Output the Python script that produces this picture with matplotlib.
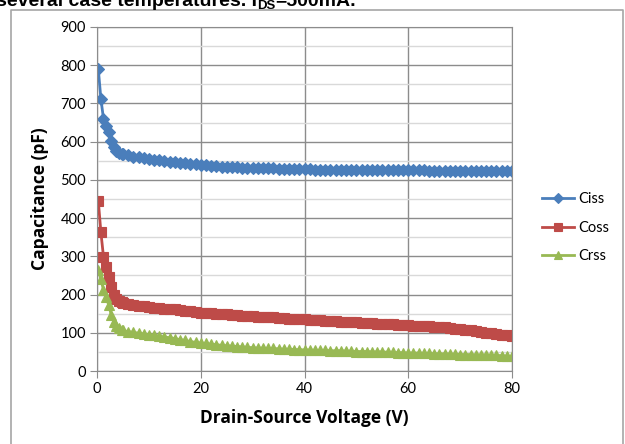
import matplotlib
matplotlib.use('Agg')
import matplotlib.pyplot as plt
from matplotlib.lines import Line2D
import numpy as np

# drain-source voltage (V): half-volt steps near 0, then 1 V steps
v_early = [0.25, 0.75, 1.25, 1.75, 2.25, 2.75, 3.25, 3.75, 4.25, 4.75]
v_tail = list(range(5, 81))
vds = v_early + v_tail

ciss = [790, 712, 660, 642, 625, 602, 587, 576, 571, 569,
        568, 564, 561, 559, 557, 555, 553, 551, 549, 548,
        546, 545, 544, 542, 541, 539, 538, 537, 536, 535,
        534, 533, 533, 532, 532, 531, 531, 530, 530, 530,
        529, 529, 529, 528, 528, 528, 528, 527, 527, 527,
        527, 527, 527, 526, 526, 526, 526, 526, 526, 526,
        525, 525, 525, 525, 525, 525, 525, 525, 525, 524,
        524, 524, 524, 524, 524, 524, 524, 524, 524, 524,
        523, 523, 523, 523, 523, 523]

coss = [445, 363, 299, 271, 247, 220, 198, 188, 183, 180,
        179, 176, 173, 171, 169, 167, 166, 164, 163, 162,
        161, 159, 158, 156, 155, 153, 152, 151, 150, 149,
        148, 147, 146, 145, 144, 143, 142, 141, 140, 140,
        139, 138, 137, 136, 136, 135, 134, 133, 133, 132,
        131, 130, 129, 129, 128, 127, 126, 126, 125, 124,
        124, 123, 122, 121, 121, 120, 119, 118, 118, 117,
        116, 115, 114, 112, 111, 109, 107, 106, 104, 102,
        100, 99, 97, 95, 94, 92]

crss = [264, 240, 212, 194, 173, 147, 127, 117, 112, 108,
        106, 103, 101, 99, 97, 95, 93, 91, 89, 87,
        85, 82, 80, 77, 75, 73, 72, 70, 69, 67,
        66, 65, 64, 63, 62, 61, 60, 60, 59, 59,
        58, 57, 57, 56, 56, 55, 55, 54, 54, 54,
        53, 53, 53, 52, 52, 51, 51, 51, 50, 50,
        50, 49, 49, 48, 48, 47, 47, 47, 46, 46,
        45, 45, 45, 44, 44, 43, 43, 43, 42, 42,
        42, 41, 41, 40, 39, 38]

W, H = 625, 444
fig = plt.figure(figsize=(W / 100, H / 100), dpi=100)
ax = fig.add_axes([97 / W, 1 - 371 / H, (512 - 97) / W, (371 - 27) / H])

ax.plot(vds, ciss, '-', color='#4A7EBB', marker='D', ms=6.5, mew=0.8, lw=2, label='Ciss')
ax.plot(vds, coss, '-', color='#BE4B48', marker='s', ms=6.5, mew=0.8, lw=2, label='Coss')
ax.plot(vds, crss, '-', color='#98B954', marker='^', ms=7.5, mew=0.8, lw=2, label='Crss')

ax.set_xlim(0, 80)
ax.set_ylim(0, 900)
ax.set_xticks(np.arange(0, 81, 20))
ax.set_yticks(np.arange(0, 901, 100))
ax.set_yticks(np.arange(50, 900, 100), minor=True)
ax.grid(True, which='major', color='#8C8C8C', lw=1)
ax.grid(True, which='minor', axis='y', color='#D9D9D9', lw=1)
ax.set_axisbelow(True)
for s in ax.spines.values():
    s.set_color('#8C8C8C')
ax.tick_params(which='major', direction='out', length=5, color='#8C8C8C',
               labelsize=10.5, pad=3)
ax.tick_params(which='minor', length=0)
for lab in ax.get_xticklabels() + ax.get_yticklabels():
    lab.set_family('Lato')

ax.set_xlabel('Drain-Source Voltage (V)', fontsize=12.5, fontweight='bold',
              family='Open Sans', labelpad=9)
ax.set_ylabel('Capacitance (pF)', fontsize=12.5, fontweight='bold',
              family='Open Sans', labelpad=8)

leg = ax.legend(loc='center left', bbox_to_anchor=(1.04, 0.416), frameon=False,
                prop={'family': 'Lato', 'size': 10.5}, handlelength=2.2,
                labelspacing=1.0, handletextpad=0.3, markerscale=0.8)

# outer chart border (bottom runs off the picture)
fig.add_artist(Line2D([11 / W, 11 / W, 623 / W, 623 / W], [0, 1 - 10 / H, 1 - 10 / H, 0],
                      transform=fig.transFigure, color='#A6A6A6', lw=1.2))

# cut-off caption above the chart
y0 = 1 - 6 / H
r = fig.canvas.get_renderer()
t1 = fig.text(-4 / W, y0, 'several case temperatures. I', fontsize=14,
              fontweight='bold', family='Liberation Sans', va='baseline')
w1 = t1.get_window_extent(r).x1
t2 = fig.text(w1 / W, y0 - 3 / H, 'DS', fontsize=9.5, fontweight='bold',
              family='Liberation Sans', va='baseline')
w2 = t2.get_window_extent(r).x1
fig.text(w2 / W, y0, '=500mA.', fontsize=14, fontweight='bold',
         family='Liberation Sans', va='baseline')

fig.savefig('out.png', dpi=100)
